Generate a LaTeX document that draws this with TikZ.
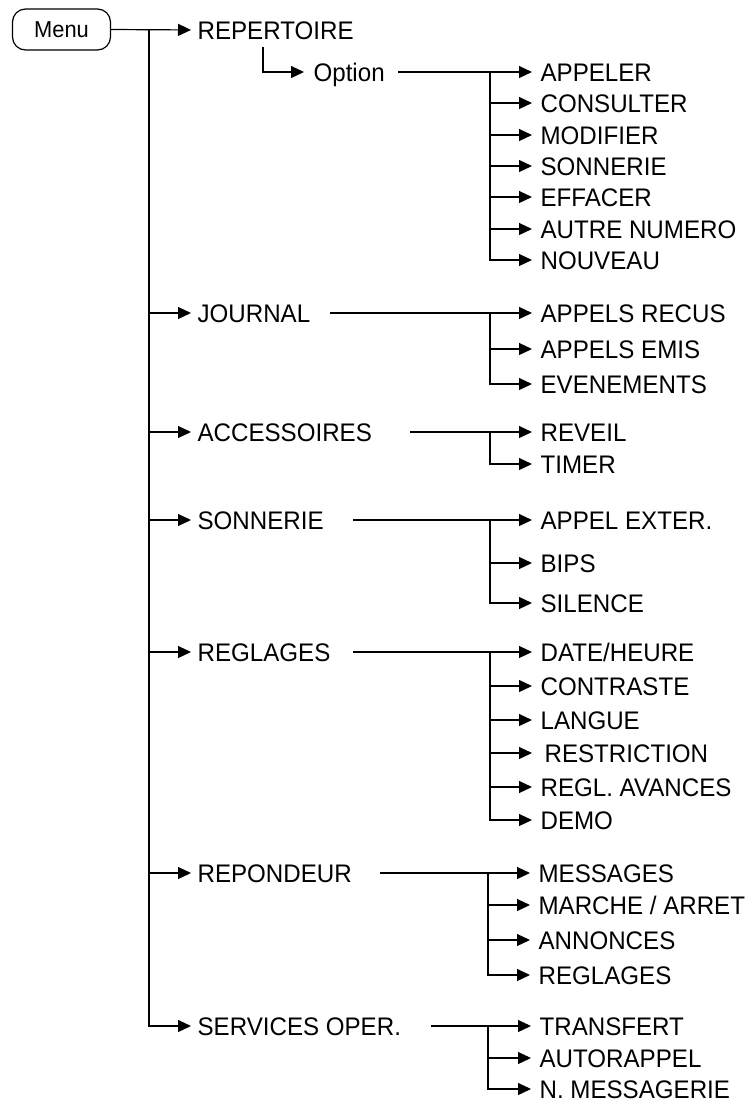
\documentclass[tikz,border=0pt]{standalone}
\usepackage{fontspec}
\setmainfont{Liberation Sans}[FakeStretch=0.95]
\usetikzlibrary{arrows.meta}
\begin{document}
\begin{tikzpicture}[x=1pt,y=-1pt,line width=1.2pt,
  lbl/.style={anchor=west,inner sep=0pt,text height=18.2pt,text depth=0pt,font=\fontsize{25.4}{30}\selectfont},
  arr/.style={-{Triangle[length=13pt,width=12pt]},shorten >=8pt},
  menubox/.style={draw,rounded corners=13pt,minimum width=98pt,minimum height=41pt,inner sep=0pt,font=\fontsize{23}{27}\selectfont}]
\useasboundingbox (0,0) rectangle (749,1104);

% root and first level
\node[menubox] (menu) at (61.5,29.5) {Menu};
\coordinate (t) at (149,30);
\node[lbl] (rep) at (197,30) {REPERTOIRE};
\node[lbl] (jou) at (197,313) {JOURNAL};
\node[lbl] (acc) at (197,432) {ACCESSOIRES};
\node[lbl] (son) at (197,520) {SONNERIE};
\node[lbl] (reg) at (197,652) {REGLAGES};
\node[lbl] (rpd) at (197,873) {REPONDEUR};
\node[lbl] (srv) at (197,1026) {SERVICES OPER.};

\draw[arr,shorten >=6pt] (menu.east) -- (rep.west);
\foreach \c in {jou,acc,son,reg,rpd,srv}
  \draw[arr,shorten >=6pt] (t) |- (\c.west);

% Option
\coordinate (o0) at (263,47);
\node[lbl] (opt) at (313,72) {Option};
\draw[arr,shorten >=9pt] (o0) |- (opt.west);

% start and junction points of the second level
\coordinate (optS) at (398,72);   \coordinate (optJ) at (490,72);
\coordinate (jouS) at (330,313);  \coordinate (jouJ) at (490,313);
\coordinate (accS) at (410,432);  \coordinate (accJ) at (490,432);
\coordinate (sonS) at (353,520);  \coordinate (sonJ) at (490,520);
\coordinate (regS) at (353,652);  \coordinate (regJ) at (490,652);
\coordinate (rpdS) at (380,873);  \coordinate (rpdJ) at (488,873);
\coordinate (srvS) at (431,1026); \coordinate (srvJ) at (488,1026);
\foreach \g in {opt,jou,acc,son,reg,rpd,srv}
  \draw (\g S) -- (\g J);

% Option children
\node[lbl] (o1) at (540,72) {APPELER};
\node[lbl] (o2) at (540,103) {CONSULTER};
\node[lbl] (o3) at (540,135) {MODIFIER};
\node[lbl] (o4) at (540,166) {SONNERIE};
\node[lbl] (o5) at (540,197) {EFFACER};
\node[lbl] (o6) at (540,229) {AUTRE NUMERO};
\node[lbl] (o7) at (540,260) {NOUVEAU};
\foreach \c in {o1,o2,o3,o4,o5,o6,o7}
  \draw[arr] (optJ) |- (\c.west);

% JOURNAL children
\node[lbl] (j1) at (540,313) {APPELS RECUS};
\node[lbl] (j2) at (540,349) {APPELS EMIS};
\node[lbl] (j3) at (540,384) {EVENEMENTS};
\foreach \c in {j1,j2,j3}
  \draw[arr] (jouJ) |- (\c.west);

% ACCESSOIRES children
\node[lbl] (a1) at (540,432) {REVEIL};
\node[lbl] (a2) at (540,464) {TIMER};
\foreach \c in {a1,a2}
  \draw[arr] (accJ) |- (\c.west);

% SONNERIE children
\node[lbl] (s1) at (540,520) {APPEL EXTER.};
\node[lbl] (s2) at (540,563) {BIPS};
\node[lbl] (s3) at (540,603) {SILENCE};
\foreach \c in {s1,s2,s3}
  \draw[arr] (sonJ) |- (\c.west);

% REGLAGES children
\node[lbl] (r1) at (540,652) {DATE/HEURE};
\node[lbl] (r2) at (540,686) {CONTRASTE};
\node[lbl] (r3) at (540,720) {LANGUE};
\node[lbl] (r4) at (544,753) {RESTRICTION};
\node[lbl] (r5) at (540,787) {REGL. AVANCES};
\node[lbl] (r6) at (540,820) {DEMO};
\foreach \c in {r1,r2,r3,r5,r6}
  \draw[arr] (regJ) |- (\c.west);
\draw[arr,shorten >=12pt] (regJ) |- (r4.west);

% REPONDEUR children
\node[lbl] (p1) at (538,873) {MESSAGES};
\node[lbl] (p2) at (538,905) {MARCHE / ARRET};
\node[lbl] (p3) at (538,940) {ANNONCES};
\node[lbl] (p4) at (538,975) {REGLAGES};
\foreach \c in {p1,p2,p3,p4}
  \draw[arr] (rpdJ) |- (\c.west);

% SERVICES OPER. children
\node[lbl] (v1) at (539,1026) {TRANSFERT};
\node[lbl] (v2) at (539,1058) {AUTORAPPEL};
\node[lbl] (v3) at (539,1089) {N. MESSAGERIE};
\foreach \c in {v1,v2,v3}
  \draw[arr] (srvJ) |- (\c.west);
\end{tikzpicture}
\end{document}
